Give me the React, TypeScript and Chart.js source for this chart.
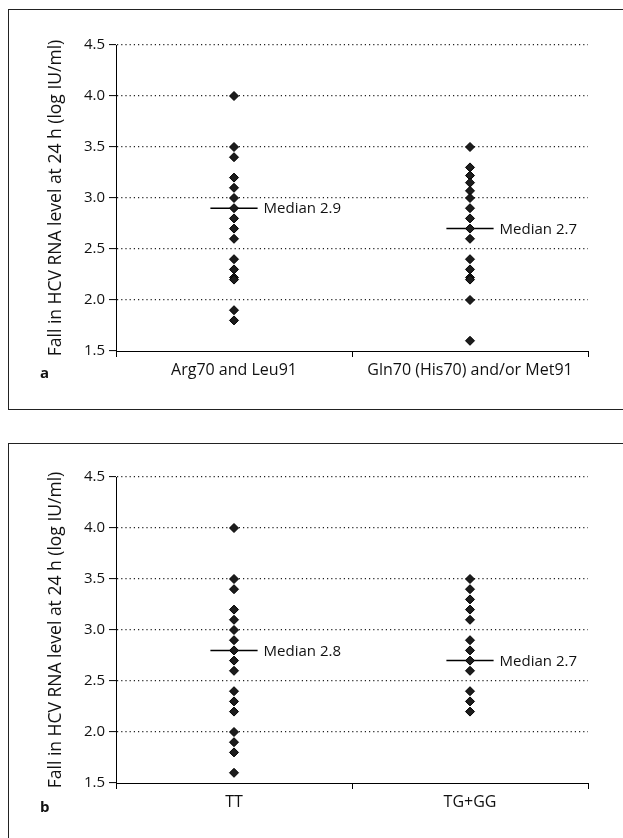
import React, { useEffect, useRef } from 'react';
import { Chart, registerables } from 'chart.js';

Chart.register(...registerables);

const FONT = '"Open Sans", "Noto Sans", sans-serif';

// ---- data ----
const yTickValues = [1.5, 2.0, 2.5, 3.0, 3.5, 4.0, 4.5];
const yAxisTitle = 'Fall in HCV RNA level at 24 h (log IU/ml)';

const categoriesA = ['Arg70 and Leu91', 'Gln70 (His70) and/or Met91'];
const arg70Leu91 = [4.0, 3.5, 3.4, 3.2, 3.1, 3.0, 2.9, 2.8, 2.7, 2.6, 2.4, 2.3, 2.22, 2.2, 1.9, 1.8];
const gln70Met91 = [3.5, 3.3, 3.22, 3.15, 3.07, 3.0, 2.9, 2.8, 2.7, 2.6, 2.4, 2.3, 2.22, 2.2, 2.0, 1.6];
const mediansA = [2.9, 2.7];

const categoriesB = ['TT', 'TG+GG'];
const genotypeTT = [4.0, 3.5, 3.4, 3.2, 3.1, 3.0, 2.9, 2.8, 2.7, 2.6, 2.4, 2.3, 2.2, 2.0, 1.9, 1.8, 1.6];
const genotypeTGGG = [3.5, 3.4, 3.3, 3.2, 3.1, 2.9, 2.8, 2.7, 2.6, 2.4, 2.3, 2.2];
const mediansB = [2.8, 2.7];

const MEDIAN_HALF = 0.1;

const medianLabelPlugin = {
  id: 'medianLabels',
  afterDatasetsDraw(chart: any, _args: any, opts: any) {
    const { ctx, scales } = chart;
    const x = scales.x;
    const y = scales.y;
    (opts.medians || []).forEach((m: number, i: number) => {
      const px = x.getPixelForValue(i + 1 + MEDIAN_HALF) + 6;
      const py = y.getPixelForValue(m);
      ctx.save();
      ctx.font = `15px ${FONT}`;
      ctx.fillStyle = '#111';
      ctx.textAlign = 'left';
      ctx.textBaseline = 'middle';
      ctx.fillText(`Median ${m.toFixed(1)}`, px, py + 1);
      ctx.restore();
    });
  },
};

interface PanelProps {
  letter: string;
  categories: string[];
  groups: number[][];
  medians: number[];
  top: number;
  height: number;
  areaTop: number;
  areaBottom: number;
  bottomBorder: boolean;
}

const CANVAS_W = 614;
const AREA_LEFT = 107;
const AREA_RIGHT = 579;

function Panel({ letter, categories, groups, medians, top, height, areaTop, areaBottom, bottomBorder }: PanelProps) {
  const ref = useRef<HTMLCanvasElement | null>(null);

  useEffect(() => {
    if (!ref.current) return;
    const datasets: any[] = [];
    groups.forEach((vals, gi) => {
      datasets.push({
        type: 'scatter',
        data: vals.map((v) => ({ x: gi + 1, y: v })),
        pointStyle: 'rectRot',
        pointRadius: 4.5,
        pointBackgroundColor: '#1c1c1c',
        pointBorderColor: '#000',
        pointBorderWidth: 1,
      });
    });
    medians.forEach((m, gi) => {
      datasets.push({
        type: 'line',
        data: [
          { x: gi + 1 - MEDIAN_HALF, y: m },
          { x: gi + 1 + MEDIAN_HALF, y: m },
        ],
        borderColor: '#000',
        borderWidth: 1.5,
        pointRadius: 0,
        fill: false,
      });
    });

    const chart = new Chart(ref.current, {
      type: 'scatter',
      data: { datasets },
      plugins: [medianLabelPlugin],
      options: {
        animation: false,
        responsive: true,
        maintainAspectRatio: false,
        layout: { padding: { top: areaTop, right: CANVAS_W - AREA_RIGHT, left: 0, bottom: 0 } },
        plugins: {
          legend: { display: false },
          tooltip: { enabled: false },
          medianLabels: { medians },
        } as any,
        scales: {
          x: {
            type: 'linear',
            min: 0.5,
            max: 2.5,
            afterFit: (s: any) => {
              s.height = height - areaBottom;
            },
            afterBuildTicks: (s: any) => {
              s.ticks = [0.5, 1, 1.5, 2, 2.5].map((v) => ({ value: v }));
            },
            ticks: {
              autoSkip: false,
              maxRotation: 0,
              padding: 4,
              color: '#111',
              font: { family: FONT, size: 16 },
              callback: (v: any) => {
                const n = Number(v);
                if (n === 1) return categories[0];
                if (n === 2) return categories[1];
                return '';
              },
            },
            grid: {
              drawOnChartArea: false,
              drawTicks: true,
              tickLength: 6,
              tickColor: (c: any) => (c.tick && Number.isInteger(c.tick.value) ? 'rgba(0,0,0,0)' : '#000'),
            },
            border: { display: true, color: '#000', width: 1 },
          },
          y: {
            type: 'linear',
            min: 1.5,
            max: 4.5,
            afterFit: (s: any) => {
              s.width = AREA_LEFT;
            },
            afterBuildTicks: (s: any) => {
              s.ticks = yTickValues.map((v) => ({ value: v }));
            },
            ticks: {
              padding: 4,
              color: '#111',
              font: { family: FONT, size: 15 },
              callback: (v: any) => Number(v).toFixed(1),
            },
            title: {
              display: true,
              text: yAxisTitle,
              color: '#111',
              font: { family: FONT, size: 17.5 },
              padding: { top: 37, bottom: 0 },
            },
            grid: {
              color: (c: any) => (c.tick && c.tick.value === 1.5 ? 'rgba(0,0,0,0)' : '#222'),
              lineWidth: 1.2,
              tickLength: 7,
              tickColor: '#000',
              tickWidth: 1,
            },
            border: { display: true, color: '#000', width: 1, dash: [1.2, 3] },
          },
        },
      } as any,
    });
    return () => chart.destroy();
  }, []);

  return (
    <div
      style={{
        position: 'absolute',
        left: 8,
        top,
        width: CANVAS_W,
        height,
        borderLeft: '1px solid #222',
        borderTop: '1px solid #222',
        borderBottom: bottomBorder ? '1px solid #222' : 'none',
      }}
    >
      <div style={{ position: 'absolute', left: 0, top: 0, width: CANVAS_W, height }}>
        <canvas ref={ref} />
      </div>
      <span
        style={{
          position: 'absolute',
          left: 31,
          top: 352,
          fontFamily: FONT,
          fontWeight: 700,
          fontSize: 15,
          color: '#111',
          lineHeight: '20px',
        }}
      >
        {letter}
      </span>
    </div>
  );
}

export default function App() {
  useEffect(() => {
    document.documentElement.style.overflow = 'hidden';
    document.body.style.overflow = 'hidden';
  }, []);
  return (
    <div style={{ position: 'absolute', left: 0, top: 0, width: 623, height: 838, overflow: 'hidden' }}>
      <Panel
        letter="a"
        categories={categoriesA}
        groups={[arg70Leu91, gln70Met91]}
        medians={mediansA}
        top={9}
        height={399}
        areaTop={35}
        areaBottom={341}
        bottomBorder={true}
      />
      <Panel
        letter="b"
        categories={categoriesB}
        groups={[genotypeTT, genotypeTGGG]}
        medians={mediansB}
        top={443}
        height={395}
        areaTop={33}
        areaBottom={339}
        bottomBorder={false}
      />
    </div>
  );
}
